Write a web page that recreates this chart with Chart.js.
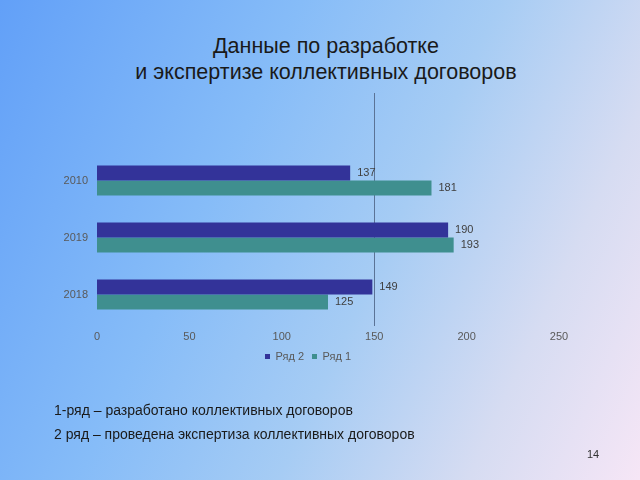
<html lang="ru">
<head>
    <meta charset="UTF-8">
    <title>Данные по разработке и экспертизе коллективных договоров</title>
    <script src="https://cdn.jsdelivr.net/npm/chart.js"></script>
    <style>
        html, body { margin: 0; padding: 0; }
        body {
            width: 640px; height: 480px; overflow: hidden; position: relative;
            font-family: "Liberation Sans", Arial, sans-serif;
            background: linear-gradient(115deg, #62a0f8 0%, #86bcf8 35%, #a6ccf4 58%, #d6dcf2 80%, #f6e6f6 100%);
        }
        #title {
            position: absolute; left: 0; top: 33px; width: 652px; text-align: center;
            font-size: 21.5px; line-height: 26px; color: #1a1a1a;
        }
        #wrap { position: absolute; left: 0; top: 0; width: 640px; height: 480px; }
        .note { position: absolute; left: 54px; font-size: 14px; color: #1a1a1a; }
        #page { position: absolute; left: 587px; top: 448px; font-size: 11px; color: #333; }
    </style>
</head>
<body>
    <div id="title">Данные по разработке<br>и экспертизе коллективных договоров</div>
    <div id="wrap"><canvas id="chart" width="640" height="480"></canvas></div>
    <div class="note" style="top:402px">1-ряд – разработано коллективных договоров</div>
    <div class="note" style="top:426px">2 ряд – проведена экспертиза коллективных договоров</div>
    <div id="page">14</div>

    <script>
        const years = ['2010', '2019', '2018'];
        const series2 = [137, 190, 149];
        const series1 = [181, 193, 125];
        const xTicks = [0, 50, 100, 150, 200, 250];

        // value labels next to the bar ends
        const valueLabels = {
            id: 'valueLabels',
            afterDatasetsDraw(chart) {
                const ctx = chart.ctx;
                ctx.save();
                ctx.font = '11px "Liberation Sans", Arial, sans-serif';
                ctx.fillStyle = '#404040';
                ctx.textAlign = 'left';
                ctx.textBaseline = 'middle';
                chart.data.datasets.forEach((ds, i) => {
                    chart.getDatasetMeta(i).data.forEach((bar, j) => {
                        ctx.fillText(ds.data[j], bar.x + 7, bar.y);
                    });
                });
                ctx.restore();
            }
        };

        // vertical line at 150 that runs up above the plot
        const markLine = {
            id: 'markLine',
            beforeDatasetsDraw(chart) {
                const ctx = chart.ctx;
                const x = Math.round(chart.scales.x.getPixelForValue(150)) + 0.5;
                ctx.save();
                ctx.strokeStyle = '#5b7396';
                ctx.lineWidth = 1;
                ctx.beginPath();
                ctx.moveTo(x, chart.chartArea.top - 59);
                ctx.lineTo(x, chart.chartArea.bottom + 3);
                ctx.stroke();
                ctx.restore();
            }
        };

        new Chart(document.getElementById('chart'), {
            type: 'bar',
            data: {
                labels: years,
                datasets: [
                    { label: 'Ряд 2', data: series2, backgroundColor: '#333399' },
                    { label: 'Ряд 1', data: series1, backgroundColor: '#3f8f8f' }
                ]
            },
            options: {
                indexAxis: 'y',
                responsive: false,
                animation: false,
                categoryPercentage: 0.53,
                barPercentage: 1,
                layout: { padding: { left: 57, right: 81, top: 152, bottom: 108 } },
                scales: {
                    x: {
                        min: 0, max: 250,
                        afterBuildTicks: s => { s.ticks = xTicks.map(v => ({ value: v })); },
                        afterFit: s => { s.height = 20; },
                        grid: { display: false, drawTicks: false },
                        border: { display: false },
                        ticks: { padding: 7, color: '#595959', font: { size: 11, family: '"Liberation Sans", Arial' } }
                    },
                    y: {
                        afterFit: s => { s.width = 40; },
                        grid: { display: false, drawTicks: false },
                        border: { display: false },
                        ticks: { padding: 9, color: '#595959', font: { size: 11, family: '"Liberation Sans", Arial' } }
                    }
                },
                plugins: {
                    tooltip: { enabled: false },
                    legend: {
                        position: 'bottom',
                        labels: {
                            boxWidth: 5, boxHeight: 5, padding: 8,
                            color: '#595959',
                            font: { size: 11, family: '"Liberation Sans", Arial' }
                        }
                    }
                }
            },
            plugins: [valueLabels, markLine]
        });
    </script>
</body>
</html>
